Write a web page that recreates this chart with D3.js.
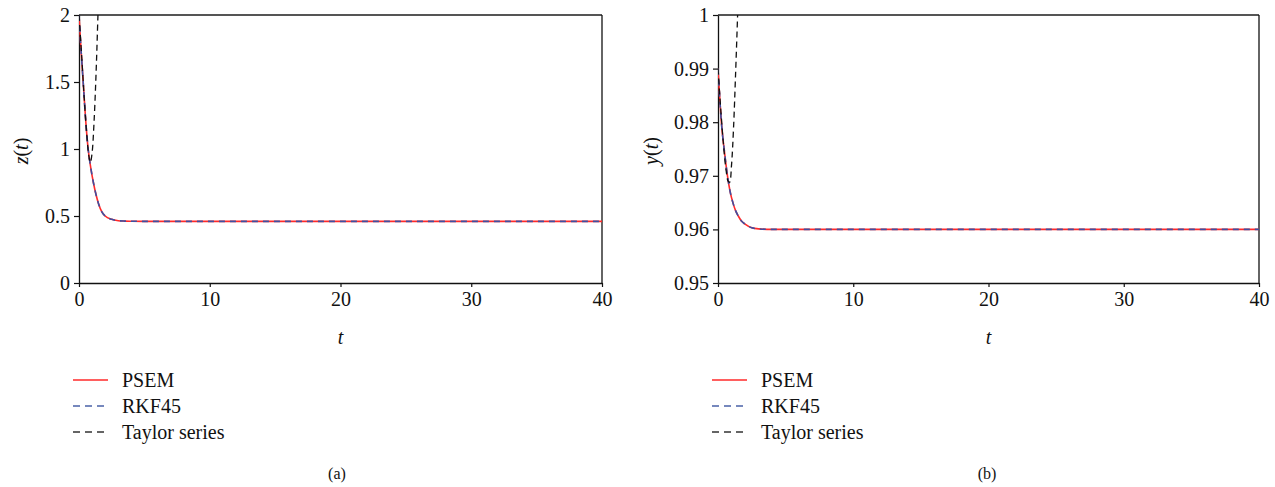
<!DOCTYPE html>
<html lang="en">
<head>
<meta charset="UTF-8">
<title>PSEM vs RKF45 vs Taylor series</title>
<script src="https://d3js.org/d3.v7.min.js"></script>
<style>
  body { margin: 0; background: #fff; }
  text { font-family: "Liberation Serif", "DejaVu Serif", serif; fill: #111; }
</style>
</head>
<body>
<script>
// x ticks shared by both panels
const tTicks = [0, 10, 20, 30, 40];

// panel (a): z(t)
const zTicks = [0, 0.5, 1, 1.5, 2];
const zTickLabels = ["0", "0.5", "1", "1.5", "2"];
const zT      = [0, 0.15, 0.32, 0.5, 0.7, 0.9, 1.1, 1.3, 1.5, 1.75, 2, 2.5, 3, 3.5, 4, 5, 10, 20, 30, 40];
const zPSEM   = [2, 1.75, 1.5, 1.23, 1.0, 0.86, 0.75, 0.66, 0.59, 0.53, 0.5, 0.475, 0.465, 0.462, 0.461, 0.46, 0.46, 0.46, 0.46, 0.46];
const zRKF    = [2, 1.75, 1.5, 1.23, 1.0, 0.86, 0.75, 0.66, 0.59, 0.53, 0.5, 0.475, 0.465, 0.462, 0.461, 0.46, 0.46, 0.46, 0.46, 0.46];
const zTayT   = [0, 0.2, 0.4, 0.6, 0.75, 0.87, 1.0, 1.15, 1.3, 1.45, 1.55];
const zTaylor = [2, 1.7, 1.38, 1.1, 0.95, 0.9, 0.97, 1.2, 1.55, 2.0, 2.3];

// panel (b): y(t)
const yTicks = [0.95, 0.96, 0.97, 0.98, 0.99, 1];
const yTickLabels = ["0.95", "0.96", "0.97", "0.98", "0.99", "1"];
const yT      = [0, 0.25, 0.5, 0.7, 0.9, 1.1, 1.3, 1.5, 1.75, 2, 2.5, 3, 4, 5, 10, 20, 30, 40];
const yPSEM   = [0.99, 0.98, 0.974, 0.97, 0.967, 0.965, 0.9635, 0.9625, 0.9615, 0.961, 0.9603, 0.9601, 0.96, 0.96, 0.96, 0.96, 0.96, 0.96];
const yRKF    = [0.99, 0.98, 0.974, 0.97, 0.967, 0.965, 0.9635, 0.9625, 0.9615, 0.961, 0.9603, 0.9601, 0.96, 0.96, 0.96, 0.96, 0.96, 0.96];
const yTayT   = [0, 0.2, 0.4, 0.6, 0.75, 0.86, 1.0, 1.15, 1.3, 1.45, 1.55];
const yTaylor = [0.99, 0.9825, 0.976, 0.971, 0.969, 0.9688, 0.972, 0.979, 0.989, 1.0, 1.008];

const legendNames = ["PSEM", "RKF45", "Taylor series"];

const W = 1275, H = 487;
const svg = d3.select("body").append("svg").attr("width", W).attr("height", H);

const panels = [
  { id: "a", left: 79, right: 602, yDomain: [0, 2], ticks: zTicks, tickLabels: zTickLabels,
    label: "z", t: zT, psem: zPSEM, rkf: zRKF, tayT: zTayT, tay: zTaylor, labelX: 22, caption: "(a)", capX: 337 },
  { id: "b", left: 718, right: 1259, yDomain: [0.95, 1], ticks: yTicks, tickLabels: yTickLabels,
    label: "y", t: yT, psem: yPSEM, rkf: yRKF, tayT: yTayT, tay: yTaylor, labelX: 652, caption: "(b)", capX: 987 }
];
const plotTop = 15, plotBottom = 283;

panels.forEach(p => {
  const x = d3.scaleLinear().domain([0, 40]).range([p.left, p.right]);
  const y = d3.scaleLinear().domain(p.yDomain).range([plotBottom, plotTop]);
  const g = svg.append("g");

  // clip so the Taylor curve leaves through the top
  g.append("clipPath").attr("id", "clip-" + p.id)
    .append("rect").attr("x", p.left).attr("y", plotTop).attr("width", p.right - p.left).attr("height", plotBottom - plotTop);

  // frame: top (grey) and right
  g.append("line").attr("x1", p.left).attr("x2", p.right).attr("y1", plotTop).attr("y2", plotTop)
    .attr("stroke", "#555").attr("stroke-width", 2);
  g.append("line").attr("x1", p.right).attr("x2", p.right).attr("y1", plotTop).attr("y2", plotBottom)
    .attr("stroke", "#111").attr("stroke-width", 1.3);

  // axes
  const xAxis = g.append("g").attr("transform", `translate(0,${plotBottom})`)
    .call(d3.axisBottom(x).tickValues(tTicks).tickSize(4).tickSizeOuter(0).tickPadding(5));
  const yAxis = g.append("g").attr("transform", `translate(${p.left},0)`)
    .call(d3.axisLeft(y).tickValues(p.ticks).tickFormat((d, i) => p.tickLabels[i]).tickSize(5).tickSizeOuter(0).tickPadding(4));
  [xAxis, yAxis].forEach(a => {
    a.select(".domain").attr("stroke", "#111").attr("stroke-width", 1.3);
    a.selectAll(".tick line").attr("stroke", "#111").attr("stroke-width", 1.2);
    a.selectAll(".tick text").attr("font-family", "Liberation Serif").attr("font-size", 20).attr("fill", "#111");
  });

  // axis titles
  g.append("text").attr("x", (p.left + p.right) / 2).attr("y", 344)
    .attr("text-anchor", "middle").attr("font-size", 20).attr("font-style", "italic").text("t");
  const yl = g.append("text").attr("transform", `translate(${p.labelX + 6},${151}) rotate(-90)`)
    .attr("text-anchor", "middle").attr("font-size", 20);
  yl.append("tspan").attr("font-style", "italic").text(p.label);
  yl.append("tspan").text("(");
  yl.append("tspan").attr("font-style", "italic").text("t");
  yl.append("tspan").text(")");

  // curves
  const line = d3.line().x(d => x(d[0])).y(d => y(d[1])).curve(d3.curveMonotoneX);
  const plot = g.append("g").attr("clip-path", `url(#clip-${p.id})`);
  plot.append("path").attr("d", line(p.t.map((t, i) => [t, p.psem[i]])))
    .attr("fill", "none").attr("stroke", "#ff2a2a").attr("stroke-width", 1.6);
  plot.append("path").attr("d", line(p.t.map((t, i) => [t, p.rkf[i]])))
    .attr("fill", "none").attr("stroke", "#3f4fa0").attr("stroke-width", 1.6).attr("stroke-dasharray", "6,5");
  plot.append("path").attr("d", d3.line().x(d => x(d[0])).y(d => y(d[1])).curve(d3.curveCatmullRom)(p.tayT.map((t, i) => [t, p.tay[i]])))
    .attr("fill", "none").attr("stroke", "#111").attr("stroke-width", 1.3).attr("stroke-dasharray", "6,4");

  // legend
  const lx = p.left - 6;
  const styles = [
    { stroke: "#ff2a2a", dash: null },
    { stroke: "#4a62a8", dash: "7,5" },
    { stroke: "#333", dash: "7,5" }
  ];
  legendNames.forEach((name, i) => {
    const ly = 380 + i * 26;
    g.append("line").attr("x1", lx).attr("x2", lx + 35).attr("y1", ly).attr("y2", ly)
      .attr("stroke", styles[i].stroke).attr("stroke-width", 1.4).attr("stroke-dasharray", styles[i].dash);
    g.append("text").attr("x", lx + 49).attr("y", ly + 7).attr("font-size", 20).text(name);
  });

  // caption
  g.append("text").attr("x", p.capX).attr("y", 479).attr("text-anchor", "middle").attr("font-size", 16).text(p.caption);
});
</script>
</body>
</html>
